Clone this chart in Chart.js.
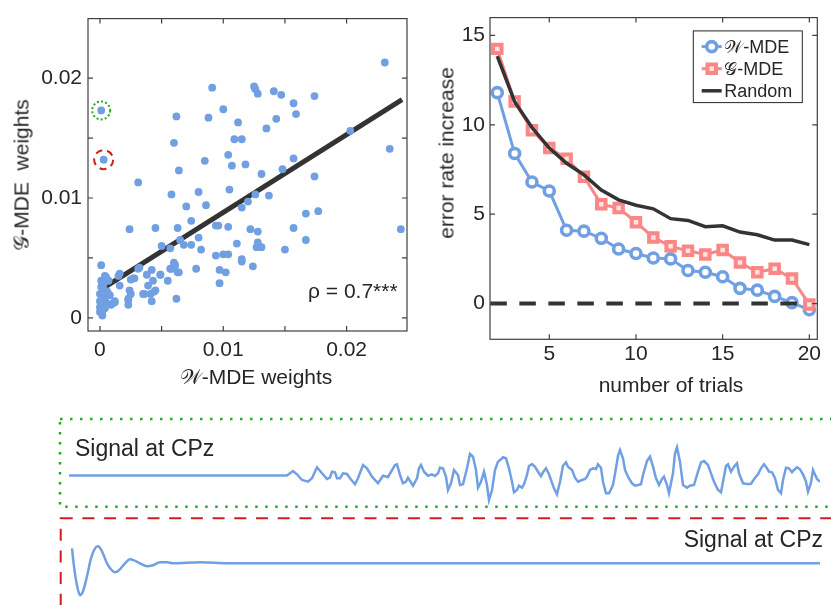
<!DOCTYPE html>
<html>
<head>
<meta charset="utf-8">
<script src="https://cdn.jsdelivr.net/npm/chart.js@4.4.0/dist/chart.umd.min.js"></script>
<style>
  html, body { margin: 0; padding: 0; background: #fff; }
  #fig { position: relative; width: 831px; height: 605px; overflow: hidden;
         font-family: "Liberation Sans", Arial, "DejaVu Sans", sans-serif; color: #262626; }
  #fig canvas { position: absolute; }
  .lbl { position: absolute; line-height: 1; white-space: pre; font-size: 21px; }
  .mid { transform: translate(-50%, -50%); }
  .rot { transform: translate(-50%, -50%) rotate(-90deg); }
</style>
</head>
<body>
<div id="fig">
  <canvas id="weightsChart" width="420" height="400" style="left:0;top:0"></canvas>
  <canvas id="trialsChart" width="411" height="400" style="left:420px;top:0"></canvas>
  <canvas id="trialA" width="776" height="100" style="left:55px;top:412px"></canvas>
  <canvas id="trialB" width="776" height="93" style="left:55px;top:512px"></canvas>

  <div class="lbl rot" style="left:21px;top:175px">𝒢-MDE  weights</div>
  <div class="lbl mid" style="left:256px;top:376px">𝒲-MDE weights</div>
  <div class="lbl" style="left:308px;top:280px">ρ = 0.7***</div>
  <div class="lbl rot" style="left:446px;top:153px">error rate increase</div>
  <div class="lbl mid" style="left:671px;top:384px">number of trials</div>
  <div class="lbl" style="left:75px;top:437px;font-size:23px">Signal at CPz</div>
  <div class="lbl" style="right:8px;top:528px;font-size:23px">Signal at CPz</div>
</div>

<script>
// per-trial weights (first two are the trials shown below)
const wWeights = [
  0.0001, 0.0003,
  0.0231, 0.0091, 0.0125, 0.0126, 0.0128, 0.0141, 0.0147, 0.0174, 0.0157, 0.0100,
  0.0159, 0.0062, 0.0088, 0.0143, 0.0112, 0.0135, 0.0203, 0.0109, 0.0115, 0.0060,
  0.0235, 0.0104, 0.0085, 0.0157, 0.0107, 0.0118, 0.0064, 0.0148, 0.0131, 0.0174,
  0.0031, 0.0058, 0.0080, 0.0105, 0.0126, 0.0137, 0.0120, 0.0086, 0.0070, 0.0115,
  0.0167, 0.0177, 0.0074, 0.0094, 0.0096, 0.0104, 0.0024, 0.0045, 0.0063, 0.0122,
  0.0128, 0.0157, 0.0244, 0.0080, 0.0065, 0.0068, 0.0074, 0.0050, 0.0057, 0.0082,
  0.0111, 0.0128, 0.0127, 0.0131, 0.0167, 0.0150, 0.0094, 0.0100, 0.0104, 0.0115,
  0.0115, 0.0124, 0.0097, 0.0102, 0.0097, 0.0078, 0.0060, 0.0059, 0.0057, 0.0061,
  0.0064, 0.0062, 0.0049, 0.0055, 0.0042, 0.0038, 0.0043, 0.0039, 0.0044, 0.0036,
  0.0042, 0.0032, 0.0031, 0.0027, 0.0025, 0.0024, 0.0025, 0.0023, 0.0023, 0.0016,
  0.0015, 0.0016, 0.0012, 0.0009, 0.0001, 0.0004, 0.0001, 0.0007, 0.0001, 0.0003,
  0.0000, 0.0004, 0.0000, 0.0005, 0.0001, 0.0004, 0.0000, 0.0002, 0.0010, 0.0012,
  0.0008, 0.0005, 0.0003, 0.0000, 0.0002, 0.0006, 0.0028, 0.0035, 0.0041, 0.0045,
  0.0049, 0.0063, 0.0058, 0.0023
];
const gWeights = [
  0.0173, 0.0132,
  0.0213, 0.0192, 0.0193, 0.0191, 0.0187, 0.0189, 0.0186, 0.0185, 0.0179, 0.0174,
  0.0170, 0.0168, 0.0167, 0.0166, 0.0163, 0.0158, 0.0156, 0.0149, 0.0149, 0.0146,
  0.0141, 0.0136, 0.0131, 0.0133, 0.0127, 0.0128, 0.0123, 0.0124, 0.0120, 0.0118,
  0.0113, 0.0103, 0.0105, 0.0107, 0.0103, 0.0102, 0.0097, 0.0094, 0.0093, 0.0092,
  0.0087, 0.0089, 0.0081, 0.0077, 0.0077, 0.0076, 0.0074, 0.0075, 0.0075, 0.0074,
  0.0072, 0.0075, 0.0074, 0.0067, 0.0065, 0.0061, 0.0061, 0.0060, 0.0058, 0.0057,
  0.0062, 0.0063, 0.0059, 0.0059, 0.0065, 0.0057, 0.0052, 0.0053, 0.0053, 0.0049,
  0.0047, 0.0043, 0.0040, 0.0038, 0.0029, 0.0041, 0.0046, 0.0042, 0.0041, 0.0044,
  0.0038, 0.0016, 0.0036, 0.0031, 0.0040, 0.0036, 0.0031, 0.0027, 0.0022, 0.0020,
  0.0014, 0.0042, 0.0041, 0.0033, 0.0032, 0.0023, 0.0020, 0.0016, 0.0011, 0.0037,
  0.0035, 0.0027, 0.0013, 0.0011, 0.0044, 0.0035, 0.0031, 0.0031, 0.0026, 0.0024,
  0.0020, 0.0017, 0.0014, 0.0013, 0.0010, 0.0008, 0.0005, 0.0002, 0.0012, 0.0014,
  0.0019, 0.0034, 0.0029, 0.0009, 0.0006, 0.0022, 0.0033, 0.0020, 0.0020, 0.0023,
  0.0036, 0.0038, 0.0041, 0.0015
];
// least-squares line end points
const fitX = [0.0003, 0.0245];
const fitY = [0.0025, 0.0182];
const weightTicks = [0, 0.005, 0.01, 0.015, 0.02];
const weightLabels = [0, 0.01, 0.02];

// error rate increase vs. number of trials kept
const trialCounts = [2, 3, 4, 5, 6, 7, 8, 9, 10, 11, 12, 13, 14, 15, 16, 17, 18, 19, 20];
const wmdeErr = [11.8, 8.4, 6.8, 6.3, 4.1, 4.05, 3.65, 3.05, 2.8, 2.55, 2.5, 1.85, 1.75, 1.5, 0.85, 0.75, 0.4, 0.05, -0.35];
const gmdeErr = [14.25, 11.3, 9.7, 8.7, 8.1, 7.1, 5.55, 5.35, 4.55, 3.7, 3.2, 2.95, 2.75, 3.0, 2.3, 1.75, 1.95, 1.4, -0.05];
const randomErr = [13.85, 11.3, 9.85, 8.7, 7.85, 7.2, 6.35, 5.8, 5.5, 5.3, 4.75, 4.65, 4.3, 4.35, 4.0, 3.85, 3.55, 3.55, 3.3];
const zeroLineX = [1.6, 20];
const zeroLineY = [0, 0];
const errTicksX = [5, 10, 15, 20];
const errTicksY = [0, 5, 10, 15];

// CPz signal of the two highlighted trials (samples, amplitude)
const trialATime = [0, 218, 224, 228, 233, 239, 243, 248, 253, 258, 261, 263, 266, 268, 271, 274, 278, 281, 286, 289,
  294, 298, 303, 309, 314, 319, 326, 328, 331, 334, 337, 339, 344, 348, 350, 352, 355, 359, 363, 366,
  369, 371, 374, 377, 379, 382, 385, 389, 391, 394, 398, 401, 404, 407, 409, 412, 415, 418, 420, 423,
  426, 429, 432, 434, 437, 440, 443, 445, 448, 450, 453, 455, 458, 460, 463, 466, 469, 472, 474, 477,
  480, 485, 488, 491, 494, 497, 499, 503, 506, 509, 513, 516, 518, 521, 524, 527, 529, 532, 534, 537,
  540, 544, 547, 549, 551, 554, 556, 559, 563, 566, 569, 572, 574, 578, 581, 584, 587, 590, 593, 595,
  598, 600, 604, 606, 608, 611, 614, 618, 621, 625, 629, 632, 635, 639, 642, 645, 649, 652, 654, 657,
  659, 662, 665, 668, 670, 674, 678, 682, 686, 689, 692, 695, 698, 700, 703, 706, 709, 712, 714, 717,
  720, 723, 725, 728, 731, 734, 737, 739, 742, 744, 748, 751];
const trialAAmp = [0, 0, 4.5, 1.2, -4.5, -6.2, -2.8, 8.2, 2.2, -3.5, -2.2, 3.8, 3.2, -2.8, -2.8, 2.2, 1.5, -2.8, -8.8, -2.8,
  10.5, 7.2, -1.2, -7.8, -0.2, -1.5, 10.5, 11.2, 0.5, -7.8, -6.2, -2.2, -10.2, -2.8, 7.2, 10.5, 3.8, -0.2, 1.2, -0.5,
  2.2, 7.8, 7.2, -1.2, -14.5, -7.8, 5.5, 0.5, -9.5, -8.8, 7.2, 21.5, 18.8, 5.5, -12.2, -6.2, 3.8, -9.5, -24.5, -14.5,
  5.5, 13.8, 16.2, 18.2, 17.2, 7.2, -6.2, -16.8, -14.5, -10.2, -12.2, -8.8, 0.5, 9.5, 11.5, 8.8, 3.8, -0.5, 3.2, 7.2,
  1.2, -12.8, -18.8, -6.2, 9.8, 13.2, 8.8, 5.5, -2.2, -6.2, -4.5, -3.5, -1.2, 5.5, 7.2, 6.5, 11.2, 7.8, -6.2, -17.8,
  -17.8, -9.5, 7.2, 19.8, 25.5, 17.2, 5.5, -1.2, -7.8, -10.2, -9.5, -8.8, 0.5, 14.5, 18.8, 8.8, -2.8, -9.5, -3.5, -1.2,
  -9.5, -17.8, 2.2, 22.2, 28.2, 13.8, -9.5, -12.2, -10.2, -9.5, 3.8, 13.2, 14.5, 10.5, 2.2, -6.2, -14.5, -16.8, -6.2, 9.5,
  11.2, 3.8, 8.8, 12.2, 2.2, -7.8, -8.5, -8.2, -2.2, 1.2, 7.2, 11.2, 7.2, 3.8, 3.2, -2.8, -14.5, -17.8, -4.5, 7.8,
  7.2, 3.2, 5.5, 8.2, 6.2, 1.2, -6.2, -16.2, -7.2, 5.5, -3.5, -6.2];
const trialBTime = [3, 5, 8, 11, 14, 18, 22, 26, 29, 33, 38, 43, 46, 50, 56, 61, 65, 71, 78, 84, 91, 98, 104, 131, 160, 751];
const trialBAmp = [15, -3, -22, -32, -28, -13, 5, 15, 17, 12, 0, -7, -9, -7, 0, 4, 3, 0, -3, -2, 1, 1, 0, 1, 0, 0];

const BLUE = 'rgb(112,160,226)';
const RED = 'rgb(250,134,134)';
const DARK = '#333333';
const TEXT = '#262626';
const tickFont = { family: '"Liberation Sans", Arial, sans-serif', size: 21 };

const xy = (xs, ys) => xs.map((x, i) => ({ x, y: ys[i] }));

// MATLAB style frame: full box with inward ticks on all four sides
const boxAxes = {
  id: 'boxAxes',
  afterDraw(chart) {
    const { ctx, chartArea: a, scales: { x, y } } = chart;
    const len = 5;
    ctx.save();
    ctx.strokeStyle = '#404040';
    ctx.lineWidth = 1.2;
    ctx.beginPath();
    x.ticks.forEach(t => {
      const px = x.getPixelForValue(t.value);
      ctx.moveTo(px, a.bottom); ctx.lineTo(px, a.bottom - len);
      ctx.moveTo(px, a.top); ctx.lineTo(px, a.top + len);
    });
    y.ticks.forEach(t => {
      const py = y.getPixelForValue(t.value);
      ctx.moveTo(a.left, py); ctx.lineTo(a.left + len, py);
      ctx.moveTo(a.right, py); ctx.lineTo(a.right - len, py);
    });
    ctx.stroke();
    ctx.strokeRect(a.left, a.top, a.right - a.left, a.bottom - a.top);
    ctx.restore();
  }
};

// circles round the two trials whose signals are plotted underneath
const highlights = [
  { index: 0, color: '#22aa22', dash: [2, 2.2], radius: 9 },
  { index: 1, color: '#cc2020', dash: [7, 5], radius: 9.5 }
];
const ringHighlights = {
  id: 'ringHighlights',
  afterDatasetsDraw(chart) {
    const { ctx } = chart;
    const pts = chart.getDatasetMeta(0).data;
    ctx.save();
    highlights.forEach(h => {
      const p = pts[h.index];
      ctx.strokeStyle = h.color;
      ctx.lineWidth = 2;
      ctx.setLineDash(h.dash);
      ctx.beginPath();
      ctx.arc(p.x, p.y, h.radius, 0, Math.PI * 2);
      ctx.stroke();
    });
    ctx.restore();
  }
};

function drawMarker(ctx, d, x, y) {
  const r = d.pointRadius;
  ctx.save();
  ctx.setLineDash([]);
  ctx.lineWidth = d.pointBorderWidth;
  ctx.strokeStyle = d.pointBorderColor;
  ctx.fillStyle = d.pointBackgroundColor;
  ctx.beginPath();
  if (d.pointStyle === 'rect') {
    const s = Math.SQRT1_2 * r;
    ctx.rect(x - s, y - s, 2 * s, 2 * s);
  } else {
    ctx.arc(x, y, r, 0, Math.PI * 2);
  }
  ctx.fill();
  ctx.stroke();
  ctx.restore();
}

// boxed legend in the upper right corner of the plot
const insetLegend = {
  id: 'insetLegend',
  afterDraw(chart) {
    const { ctx, chartArea: a } = chart;
    const items = chart.data.datasets.filter(d => d.inLegend);
    const w = 109, h = 71.7;
    const left = a.right - 15 - w, top = a.top + 13.3;
    ctx.save();
    ctx.fillStyle = '#fff';
    ctx.fillRect(left, top, w, h);
    ctx.strokeStyle = '#262626';
    ctx.lineWidth = 1;
    ctx.strokeRect(left, top, w, h);
    ctx.font = '18px "Liberation Sans", Arial, sans-serif';
    ctx.textBaseline = 'middle';
    items.forEach((d, i) => {
      const cy = top + 15.7 + i * 22.1;
      ctx.strokeStyle = d.borderColor;
      ctx.lineWidth = d.borderWidth;
      ctx.beginPath();
      ctx.moveTo(left + 8.4, cy);
      ctx.lineTo(left + 28.4, cy);
      ctx.stroke();
      if (d.pointRadius) drawMarker(ctx, d, left + 18.4, cy);
      ctx.fillStyle = TEXT;
      ctx.fillText(d.label, left + 31, cy + 1);
    });
    ctx.restore();
  }
};

// dotted / dashed frame round a signal panel
const panelFrame = {
  id: 'panelFrame',
  beforeDraw(chart, args, opts) {
    const { ctx } = chart;
    ctx.save();
    ctx.strokeStyle = opts.color;
    ctx.lineWidth = opts.width;
    ctx.setLineDash(opts.dash);
    ctx.strokeRect(opts.left, opts.top, 1000, opts.height);
    ctx.restore();
  }
};

function axisOpts(min, max, ticks, labels, pad, fit) {
  return {
    type: 'linear', min, max,
    grid: { display: false, drawTicks: false },
    border: { display: false },
    afterBuildTicks: s => { s.ticks = ticks.map(v => ({ value: v })); },
    ticks: {
      padding: pad, font: tickFont, color: TEXT, autoSkip: false, maxRotation: 0,
      callback: v => labels.includes(v) ? String(v) : ''
    },
    afterFit: fit
  };
}

const quiet = { legend: { display: false }, tooltip: { enabled: false } };

new Chart(document.getElementById('weightsChart'), {
  type: 'scatter',
  data: {
    datasets: [
      { label: 'trials', data: xy(wWeights, gWeights), backgroundColor: BLUE, borderWidth: 0, pointRadius: 3.9, order: 0 },
      { type: 'line', label: 'fit', data: xy(fitX, fitY), borderColor: DARK, borderWidth: 5, pointRadius: 0, order: 1 }
    ]
  },
  options: {
    responsive: false, animation: false, events: [],
    layout: { padding: { top: 12, right: 13, left: 0, bottom: 0 } },
    plugins: quiet,
    scales: {
      x: axisOpts(-0.00097, 0.0249, weightTicks, weightLabels, 7, s => { s.height = 69; }),
      y: axisOpts(-0.00109, 0.02496, weightTicks, weightLabels, 6, s => { s.width = 88; })
    }
  },
  plugins: [boxAxes, ringHighlights]
});

new Chart(document.getElementById('trialsChart'), {
  type: 'line',
  data: {
    datasets: [
      { label: '𝒲-MDE', data: xy(trialCounts, wmdeErr), borderColor: BLUE, borderWidth: 3,
        pointStyle: 'circle', pointRadius: 5, pointBorderWidth: 3.6, pointBorderColor: BLUE,
        pointBackgroundColor: '#ffffff', order: 4, inLegend: true },
      { label: '𝒢-MDE', data: xy(trialCounts, gmdeErr), borderColor: RED, borderWidth: 3,
        pointStyle: 'rect', pointRadius: 6, pointBorderWidth: 4, pointBorderColor: RED,
        pointBackgroundColor: '#ffe2e2', order: 3, inLegend: true },
      { label: 'Random', data: xy(trialCounts, randomErr), borderColor: DARK, borderWidth: 3.5,
        pointRadius: 0, order: 2, inLegend: true },
      { label: 'zero', data: xy(zeroLineX, zeroLineY), borderColor: DARK, borderWidth: 4,
        borderDash: [16.5, 12.5], pointRadius: 0, order: 1 }
    ]
  },
  options: {
    responsive: false, animation: false, events: [],
    layout: { padding: { top: 12.7, right: 13.7, left: 0, bottom: 0 } },
    plugins: quiet,
    scales: {
      x: axisOpts(1.58, 20.46, errTicksX, errTicksX, 2, s => { s.height = 60.7; }),
      y: axisOpts(-2, 16, errTicksY, errTicksY, 5, s => { s.width = 70; })
    }
  },
  plugins: [boxAxes, insetLegend]
});

function signalChart(id, time, amp, yMin, yMax, pad, frame, smooth) {
  new Chart(document.getElementById(id), {
    type: 'line',
    data: {
      datasets: [{ data: xy(time, amp), borderColor: BLUE, borderWidth: 2.5, pointRadius: 0,
                   cubicInterpolationMode: smooth ? 'monotone' : 'default', tension: 0 }]
    },
    options: {
      responsive: false, animation: false, events: [],
      layout: { padding: pad },
      plugins: Object.assign({ panelFrame: frame }, quiet),
      scales: {
        x: { type: 'linear', display: false, min: 0, max: 751 },
        y: { type: 'linear', display: false, min: yMin, max: yMax }
      }
    },
    plugins: [panelFrame]
  });
}

signalChart('trialA', trialATime, trialAAmp, -30, 50,
  { left: 14, right: 11, top: 13.5, bottom: 6.5 },
  { color: '#22aa22', width: 2.5, dash: [2.5, 7.5], left: 5, top: 7, height: 87.7 }, false);
signalChart('trialB', trialBTime, trialBAmp, -40, 40,
  { left: 14, right: 11, top: 11.3, bottom: 1.7 },
  { color: '#cc2020', width: 2, dash: [12, 9.7], left: 5.7, top: 6.3, height: 400 }, true);
</script>
</body>
</html>
